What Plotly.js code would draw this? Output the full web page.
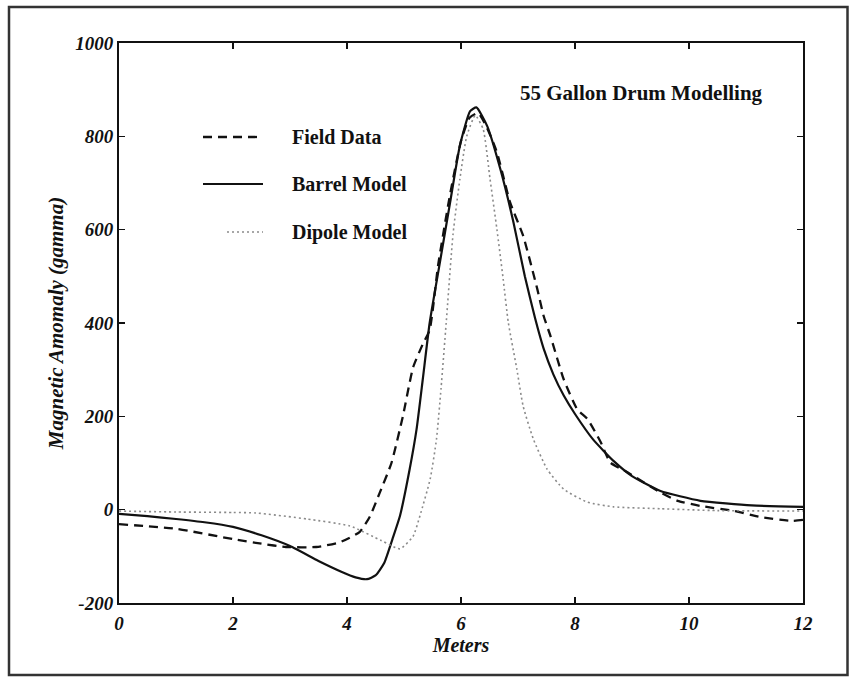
<!DOCTYPE html>
<html>
<head>
<meta charset="utf-8">
<script src="https://cdn.plot.ly/plotly-3.0.1.min.js"></script>
<style>
html,body{margin:0;padding:0;background:#fff;}
#chart{width:849px;height:677px;}
</style>
</head>
<body>
<div id="chart"></div>
<script>
// ---- Data ----
var seriesNames = ["Field Data", "Barrel Model", "Dipole Model"];

var fieldX = [0, 1, 2, 2.5, 2.93, 3.46, 3.87, 4.22, 4.4, 4.57, 4.78, 4.98, 5.16, 5.33, 5.45, 5.6, 5.8, 6.0, 6.15, 6.3, 6.45, 6.63, 6.86, 7.09, 7.34, 7.45, 7.57, 7.8, 8.04, 8.22, 8.45, 8.62, 8.92, 9.5, 9.8, 10.2, 10.8, 11.26, 11.8, 12];
var fieldY = [-31, -41, -63, -73, -80, -80, -70, -48, -15, 35, 100, 200, 305, 355, 385, 525, 670, 790, 840, 850, 820, 766, 659, 587, 472, 415, 372, 280, 215, 194, 145, 101, 80, 37, 19, 8, -3, -16, -24, -22];

var barrelX = [0, 0.5, 1, 1.5, 2, 2.5, 3, 3.5, 3.9, 4.15, 4.35, 4.5, 4.65, 4.8, 4.93, 5.1, 5.22, 5.33, 5.45, 5.63, 5.81, 5.98, 6.16, 6.27, 6.46, 6.69, 6.92, 7.12, 7.3, 7.45, 7.62, 7.8, 8.0, 8.32, 8.68, 9.0, 9.5, 10.2, 11.1, 12];
var barrelY = [-9, -14, -20, -27, -37, -55, -78, -110, -133, -145, -149, -141, -115, -62, -13, 87, 172, 280, 400, 530, 659, 780, 854, 862, 822, 730, 616, 500, 410, 345, 290, 245, 205, 150, 104, 72, 40, 19, 9, 6];

var dipoleX = [0, 1, 2, 2.4, 3.3, 4.05, 4.6, 4.93, 5.16, 5.28, 5.46, 5.57, 5.65, 5.74, 5.86, 5.98, 6.1, 6.25, 6.39, 6.51, 6.63, 6.74, 6.83, 6.98, 7.09, 7.27, 7.51, 7.8, 8.22, 8.68, 9.5, 10.5, 12];
var dipoleY = [-3, -5, -6, -7, -20, -35, -66, -84, -57, -13, 66, 151, 260, 400, 590, 708, 800, 845, 815, 708, 601, 494, 401, 301, 222, 151, 87, 44, 16, 6, 2, -2, -3];

var xTicks = [0, 2, 4, 6, 8, 10, 12];
var yTicks = [-200, 0, 200, 400, 600, 800, 1000];

// ---- Styles ----
var serif = "Liberation Serif, Times New Roman, serif";
var dashPat = "9px,6px";
var dotPat = "2px,3px";

var traces = [
  {x: fieldX, y: fieldY, name: seriesNames[0], mode: "lines", line: {color: "#111", width: 2.3, dash: dashPat, shape: "spline", smoothing: 0.5}},
  {x: barrelX, y: barrelY, name: seriesNames[1], mode: "lines", line: {color: "#111", width: 2.2, shape: "spline", smoothing: 0.5}},
  {x: dipoleX, y: dipoleY, name: seriesNames[2], mode: "lines", line: {color: "#8a8a8a", width: 1.6, dash: dotPat, shape: "spline", smoothing: 0.5}}
];

var L = 119, R = 803, T = 43, B = 603;
function px(x){ return (x - L) / (R - L); }
function py(y){ return (B - y) / (B - T); }

var legendRows = [137, 184, 232];
var shapes = [
  {type: "rect", xref: "paper", yref: "paper", x0: px(9), x1: px(847.5), y0: py(675), y1: py(7), line: {color: "#333", width: 2.5}},
  {type: "line", xref: "paper", yref: "paper", x0: px(203), x1: px(263), y0: py(legendRows[0]), y1: py(legendRows[0]), line: {color: "#111", width: 2.3, dash: dashPat}},
  {type: "line", xref: "paper", yref: "paper", x0: px(203), x1: px(263), y0: py(legendRows[1]), y1: py(legendRows[1]), line: {color: "#111", width: 2.2}},
  {type: "line", xref: "paper", yref: "paper", x0: px(227), x1: px(263), y0: py(legendRows[2]), y1: py(legendRows[2]), line: {color: "#8a8a8a", width: 1.6, dash: dotPat}}
];

var annotations = [
  {xref: "paper", yref: "paper", x: px(641), y: py(93), text: "55 Gallon Drum Modelling", showarrow: false, xanchor: "center", yanchor: "middle", font: {family: serif, size: 21, color: "#111", weight: "bold"}}
];
for (var i = 0; i < seriesNames.length; i++) {
  annotations.push({xref: "paper", yref: "paper", x: px(290), y: py(legendRows[i]), text: seriesNames[i], showarrow: false, xanchor: "left", yanchor: "middle", font: {family: serif, size: 20, color: "#111", weight: "bold"}});
}

var tickFont = {family: serif, size: 19, color: "#111", style: "italic", weight: "bold"};

var layout = {
  width: 849, height: 677,
  margin: {l: L, r: 849 - R, t: T, b: 677 - B, pad: 0},
  paper_bgcolor: "#fff", plot_bgcolor: "#fff",
  showlegend: false,
  xaxis: {
    range: [0, 12], tickvals: xTicks, ticktext: xTicks.map(String),
    showgrid: false, zeroline: false, showline: true, linecolor: "#111", linewidth: 2,
    mirror: "ticks", ticks: "inside", ticklen: 6, tickwidth: 1.5, tickcolor: "#111",
    tickfont: tickFont, ticklabelstandoff: 2,
    title: {text: "Meters", font: {family: serif, size: 20, color: "#111", style: "italic", weight: "bold"}, standoff: 0}
  },
  yaxis: {
    range: [-200, 1000], tickvals: yTicks, ticktext: yTicks.map(String),
    showgrid: false, zeroline: false, showline: true, linecolor: "#111", linewidth: 2,
    mirror: "ticks", ticks: "inside", ticklen: 6, tickwidth: 1.5, tickcolor: "#111",
    tickfont: tickFont, ticklabelstandoff: 0,
    title: {text: "Magnetic Amomaly (gamma)", font: {family: serif, size: 21, color: "#111", style: "italic", weight: "bold"}, standoff: 6}
  },
  shapes: shapes,
  annotations: annotations
};

Plotly.newPlot("chart", traces, layout, {displayModeBar: false, staticPlot: true});
</script>
</body>
</html>
